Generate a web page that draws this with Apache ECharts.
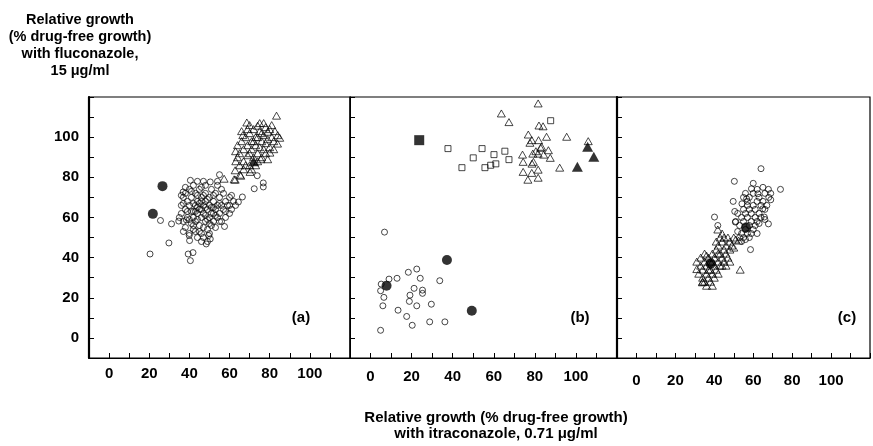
<!DOCTYPE html>
<html><head><meta charset="utf-8">
<script src="https://cdn.jsdelivr.net/npm/echarts@6/dist/echarts.min.js"></script>
<style>html,body{margin:0;padding:0;background:#fff}#c{width:873px;height:446px}</style>
</head><body><div id="c"></div>
<script>
// ---------- tick labels ----------
const xTickLabels = [0, 20, 40, 60, 80, 100];
const yTickLabels = [0, 20, 40, 60, 80, 100];
const panelLetters = ['(a)', '(b)', '(c)'];
const yTitle = 'Relative growth\n(% drug-free growth)\nwith fluconazole,\n15 \u03bcg/ml';
const xTitle = 'Relative growth (% drug-free growth)\nwith itraconazole, 0.71 \u03bcg/ml';

// ---------- panel (a) ----------
const aCircles = [
 [20.4,41.8],[25.6,58.5],[29.8,47.3],[31.1,56.8],[34.7,58.2],[38.5,58.8],[39.4,41.8],[41.8,42.5],[40.5,38.5],
 [40.1,48.5],[39.9,51],[48.4,46.8],[50.4,49.3],[49.6,51],[57.5,55.5],[55,81.3],[64.4,67.7],[66.4,70.2],
 [72.3,74.3],[76.8,77.2],[76.8,75.2],[73.8,80.8],[40.5,78.5],[36.9,72.7],[50.4,77.7],
 [36,62],[36,66],[37,70],[37,58],[38,64],[38,72],[38,55],[39,68],[39,60],[40,74],[40,52],[40,66],[41,57],
 [41,63],[41,70],[42,60],[42,76],[42,54],[43,66],[43,72],[43,58],[44,62],[44,50],[44,68],[45,64],[45,56],
 [45,74],[46,60],[46,70],[46,52],[47,66],[47,62],[47,78],[48,58],[48,68],[48,72],[49,64],[49,54],[50,60],
 [50,70],[50,66],[51,74],[51,56],[52,62],[52,68],[52,58],[53,72],[53,64],[54,60],[54,66],[54,76],[55,62],
 [55,70],[56,58],[56,66],[57,64],[57,72],[58,60],[58,68],[59,66],[60,62],[60,70],[61,64],[62,68],[63,66],
 [45,67],[44,59],[46,64],[48,61],[47,55],[43,63],[42,67],[49,69],[51,65],[50,57],[53,61],[52,71],[55,67],
 [44,71],[46,75],[41,73],[39,63],[37,67],[40,59],[42,56],[45,53],[47,50],[49,48],[43,53],[46,48],[50,52],
 [53,55],[55,58],[58,63],[60,66],[61,71],[56,74],[54,78],[48,76],[44,78],[38,75],[36,71],[35,60],[37,53],
 [42,63],[47,71],[51,62],[46,68],[49,59],[52,65],[44,65],[48,65]
];
const aTriangles = [
 [83.4,110.7],[68.6,107.3],[74,105.7],[82.6,103],[79,102.7],[66.6,101],[85,99.7],[83.9,96.8],[80.1,92.3],
 [75.6,89],[63.1,88],[62.8,83.5],[65.6,80.8],[62.3,79],[57.3,79.3],[62.8,78.8],[65.2,81.3],[70.2,82.7],
 [64,96],[65,92],[66,98],[67,94],[67,88],[68,100],[69,96],[69,91],[70,86],[70,102],[71,94],[71,98],[72,90],
 [72,104],[73,96],[73,86],[74,100],[74,92],[75,95],[75,103],[76,98],[76,90],[77,101],[77,94],[78,97],
 [78,105],[79,99],[80,95],[81,100],[82,98],[66,103],[64,90],[68,86],[70,92],[72,98],[74,88],[76,102],
 [78,92],[80,104],[69,104],[63,93],[65,86],[71,84],[73,100],[79,89],[82,94],[84,101],[81,106],[77,107],
 [75,107],[70,106],[67,84]
];
const aFilledCircles = [[21.8,61.8],[26.6,75.6]];
const aFilledTriangles = [[72,88]];

// ---------- panel (b) ----------
const bCircles = [
 [6.8,52.7],[5.2,26.8],[4.9,23.5],[6.5,20.2],[6,16],[4.9,3.8],[9,29.3],[12.9,29.7],[13.4,13.8],[17.6,10.7],
 [20.3,6.3],[18.4,32.7],[22.5,34.3],[24.2,29.7],[21.2,24.7],[19.2,21.3],[18.9,18.2],[22.5,16],[25.3,23.8],
 [25.3,22.2],[29.6,16.8],[28.8,8],[33.7,28.5],[36.2,8]
];
const bSquares = [
 [37.7,94.3],[50,89.7],[54.3,94.3],[60.1,91.3],[65.4,93],[67.4,88.8],[44.5,84.8],[55.7,84.8],[58.5,86],
 [61,86.7],[87.7,108.2]
];
const bTriangles = [
 [81.6,116.8],[63.7,111.8],[67.4,107.5],[82,105.8],[84,105.4],[76.8,101.3],[85.7,100.2],[95.5,100.2],
 [106,98],[78.5,98.5],[81.8,98.5],[77.6,97.2],[83.3,95.2],[86.6,93.5],[74,91.3],[79,91.8],[81.6,91.8],
 [84.3,91.3],[87.5,89.7],[74.3,87.7],[79.3,87.7],[78.6,86.8],[92.1,84.8],[74.3,82.7],[78.5,82.2],[81.6,83.8],
 [81.6,79.8],[76.6,78.8],[82.8,94.7],[80.5,93]
];
const bFilledCircles = [[7.8,26],[37.2,38.8],[49.3,13.5]];
const bFilledSquares = [[23.7,98.5]];
const bFilledTriangles = [[105.7,95.2],[108.7,90.2],[100.7,85.2]];

// ---------- panel (c) ----------
const cCircles = [
 [64,84.3],[50.3,78],[74,74],[67.8,74],[59.1,74.3],[62.4,71.8],[49.7,68],[69,68.8],[50.5,63],[40.1,60.2],
 [41.8,56],[67.8,56.8],[58.6,44],[54.2,66.8],[56.6,69.3],[64.9,64.3],[65.7,60.2],[50.8,57.7],
 [53,56],[54,60],[54,52],[55,58],[55,64],[56,54],[56,62],[57,60],[57,66],[58,56],[58,64],[58,70],[59,58],
 [59,62],[60,66],[60,54],[60,72],[61,60],[61,64],[62,68],[62,58],[63,62],[63,70],[64,66],[64,60],[65,68],
 [66,64],[66,72],[67,66],[68,70],[52,53],[53,50],[55,50],[57,52],[59,52],[61,56],[56,72],[62,74],[65,75],
 [60,77],[57,68],[55,70],[52,62],[51,58],[58,50],[62,52],[54,48],[56,49],[69,72],[63,57],[66,59]
];
const cTriangles = [
 [41.8,54],[52.5,48.5],[53.3,34],[31,34.3],[34,28],[33.9,27.7],
 [32,32],[33,36],[34,30],[34,34],[35,38],[35,28],[36,32],[36,36],[37,40],[37,30],[38,34],[38,38],[39,42],
 [39,32],[40,36],[40,40],[41,44],[41,34],[42,38],[42,46],[43,42],[43,36],[44,48],[44,40],[45,44],[45,38],
 [46,46],[46,42],[47,50],[47,40],[48,44],[48,48],[49,46],[50,50],[44,52],[45,50],[43,50],[36,41],[35,42],
 [38,28],[40,30],[42,32],[44,36],[46,36],[48,38],[39,26],[36,26],[33,40],[31,38],[41,48],[50,45],[51,49],
 [37,34],[39,38],[42,42]
];
const cFilledCircles = [[56.3,55],[38.1,37]];

// ---------- build ----------
const FONT = '"Liberation Sans", Arial, Helvetica, sans-serif';
const grids = [
  {left: 89, top: 97, width: 261, height: 261},
  {left: 350, top: 97, width: 267, height: 261},
  {left: 617, top: 97, width: 268, height: 261}
];
const labelMargins = [8, 11, 15];
const leftLineWidths = [2.2, 1, 2.2];

const xAxes = grids.map((g, i) => ({
  gridIndex: i, type: 'value', position: 'bottom', min: -10, max: 120, interval: 10,
  axisLine: {show: true, onZero: false, lineStyle: {color: '#000', width: 1.2}},
  splitLine: {show: false},
  axisTick: {show: true, inside: true, length: 5, lineStyle: {color: '#000', width: 1}},
  axisLabel: {
    margin: labelMargins[i], color: '#000', fontSize: 15, fontWeight: 'bold', fontFamily: FONT,
    showMinLabel: true, showMaxLabel: true,
    formatter: v => xTickLabels.indexOf(v) >= 0 ? String(v) : ''
  }
}));
const yAxes = grids.map((g, i) => ({
  gridIndex: i, type: 'value', position: 'left', min: -10, max: 120, interval: 10,
  axisLine: {show: true, onZero: false, lineStyle: {color: '#000', width: leftLineWidths[i]}},
  splitLine: {show: false},
  axisTick: {show: true, inside: true, length: 5, lineStyle: {color: '#000', width: 1}},
  axisLabel: {
    show: i === 0, margin: 10, color: '#000', fontSize: 15, fontWeight: 'bold', fontFamily: FONT,
    formatter: v => yTickLabels.indexOf(v) >= 0 ? String(v) : ''
  }
}));

const openStyle = {color: 'rgba(0,0,0,0)', borderColor: '#000', borderWidth: 0.9};
const filledStyle = {color: '#000', borderColor: '#000', borderWidth: 0};
function s(data, idx, symbol, size, style, z) {
  return {type: 'scatter', xAxisIndex: idx, yAxisIndex: idx, data, symbol, symbolSize: size,
    itemStyle: style, z: z || 2, silent: true, animation: false, clip: false};
}
const series = [
  s(aCircles, 0, 'circle', 6, openStyle),
  s(aTriangles, 0, 'triangle', [8, 7], openStyle),
  s(aFilledCircles, 0, 'circle', 10, filledStyle, 3),
  s(aFilledTriangles, 0, 'triangle', [11, 10], filledStyle, 3),
  s(bCircles, 1, 'circle', 6, openStyle),
  s(bSquares, 1, 'rect', 6, openStyle),
  s(bTriangles, 1, 'triangle', [8, 7], openStyle),
  s(bFilledCircles, 1, 'circle', 10, filledStyle, 3),
  s(bFilledSquares, 1, 'rect', 10, filledStyle, 3),
  s(bFilledTriangles, 1, 'triangle', [11, 10], filledStyle, 3),
  s(cCircles, 2, 'circle', 6, openStyle),
  s(cTriangles, 2, 'triangle', [8, 7], openStyle),
  s(cFilledCircles, 2, 'circle', 10, filledStyle, 3)
];

const letterPos = [[301, 318], [580, 318], [847, 318]];
const graphics = [
  {type: 'text', x: 80, y: 11, silent: true, style: {text: yTitle, textAlign: 'center', textVerticalAlign: 'top',
    font: 'bold 14.5px ' + FONT, lineHeight: 17, fill: '#000'}},
  {type: 'text', x: 496, y: 410, silent: true, style: {text: xTitle, textAlign: 'center', textVerticalAlign: 'top',
    font: 'bold 15px ' + FONT, lineHeight: 16, fill: '#000'}}
].concat(letterPos.map((p, i) => ({type: 'text', x: p[0], y: p[1], silent: true,
  style: {text: panelLetters[i], textAlign: 'center', textVerticalAlign: 'middle', font: 'bold 15px ' + FONT, fill: '#000'}})));

const chart = echarts.init(document.getElementById('c'), null, {renderer: 'canvas'});
chart.setOption({
  animation: false,
  backgroundColor: '#fff',
  grid: grids.map(g => Object.assign({show: true, borderColor: '#000', borderWidth: 1.2, backgroundColor: 'transparent'}, g)),
  xAxis: xAxes,
  yAxis: yAxes,
  series,
  graphic: graphics
});
</script>
</body></html>
